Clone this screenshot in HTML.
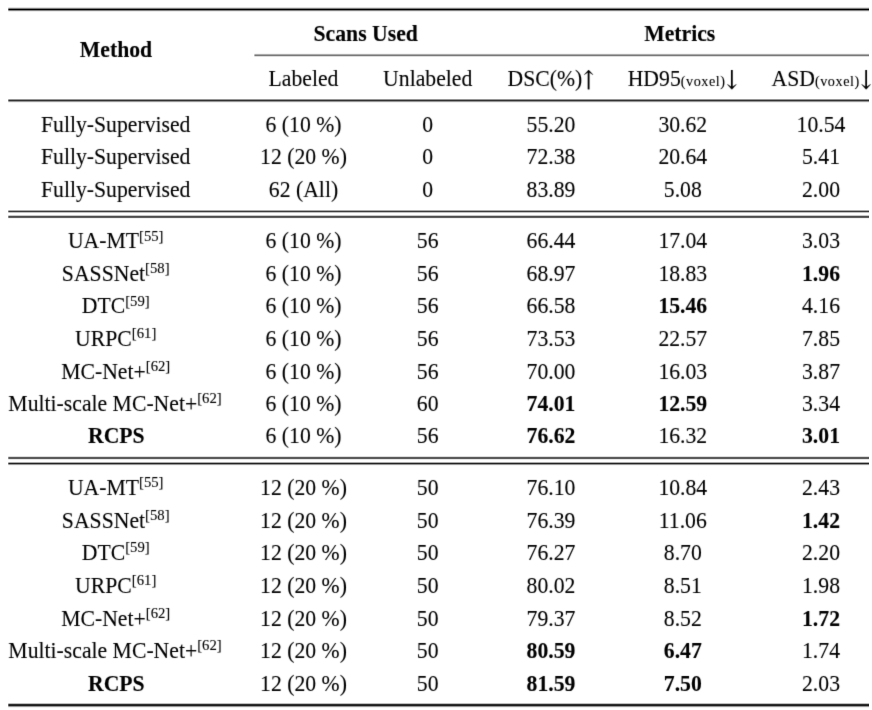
<!DOCTYPE html>
<html><head><meta charset="utf-8"><title>Table</title>
<style>
html,body{margin:0;padding:0;background:#fff;}
body{width:872px;height:710px;overflow:hidden;}
svg{display:block;}
.ar{font-family:"DejaVu Math TeX Gyre","DejaVu Sans",serif;}
text{font-family:"Liberation Serif","Times New Roman",serif;font-size:21.7px;fill:#000;stroke:#000;stroke-width:0.1px;}
</style></head><body>
<svg width="872" height="710" viewBox="0 0 872 710">
<defs><filter id="sf" x="0" y="0" width="872" height="710" filterUnits="userSpaceOnUse"><feConvolveMatrix order="3" kernelMatrix="0.0100 0.0799 0.0100 0.0799 0.6408 0.0799 0.0100 0.0799 0.0100" divisor="1" edgeMode="none" preserveAlpha="false"/></filter></defs>
<rect width="872" height="710" fill="#fff"/>
<g filter="url(#sf)">
<text transform="translate(365.7,40.8) scale(1.0,1.06)" text-anchor="middle" font-weight="bold">Scans Used</text>
<text transform="translate(679.7,40.8) scale(1.0,1.06)" text-anchor="middle" font-weight="bold">Metrics</text>
<text transform="translate(116.0,56.7) scale(1.0,1.06)" text-anchor="middle" font-weight="bold">Method</text>
<text transform="translate(303.5,85.9) scale(1.0,1.06)" text-anchor="middle">Labeled</text>
<text transform="translate(427.7,85.9) scale(1.0,1.06)" text-anchor="middle">Unlabeled</text>
<text transform="translate(551.0,85.9) scale(1.0,1.06)" text-anchor="middle">DSC(%)<tspan class="ar">↑</tspan></text>
<text transform="translate(682.8,85.9) scale(1.0,1.06)" text-anchor="middle">HD95<tspan font-size="14.2" letter-spacing="0.55">(voxel)</tspan><tspan class="ar">↓</tspan></text>
<text transform="translate(821.8,85.9) scale(1.0,1.06)" text-anchor="middle">ASD<tspan font-size="14.2" letter-spacing="0.55">(voxel)</tspan><tspan class="ar">↓</tspan></text>
<text transform="translate(115.7,131.8) scale(1.0,1.06)" text-anchor="middle">Fully-Supervised</text>
<text transform="translate(303.5,131.8) scale(1.0,1.06)" text-anchor="middle">6 (10 %)</text>
<text transform="translate(427.7,131.8) scale(1.0,1.06)" text-anchor="middle">0</text>
<text transform="translate(551.0,131.8) scale(1.0,1.06)" text-anchor="middle">55.20</text>
<text transform="translate(682.8,131.8) scale(1.0,1.06)" text-anchor="middle">30.62</text>
<text transform="translate(821.0,131.8) scale(1.0,1.06)" text-anchor="middle">10.54</text>
<text transform="translate(115.7,164.3) scale(1.0,1.06)" text-anchor="middle">Fully-Supervised</text>
<text transform="translate(303.5,164.3) scale(1.0,1.06)" text-anchor="middle">12 (20 %)</text>
<text transform="translate(427.7,164.3) scale(1.0,1.06)" text-anchor="middle">0</text>
<text transform="translate(551.0,164.3) scale(1.0,1.06)" text-anchor="middle">72.38</text>
<text transform="translate(682.8,164.3) scale(1.0,1.06)" text-anchor="middle">20.64</text>
<text transform="translate(821.0,164.3) scale(1.0,1.06)" text-anchor="middle">5.41</text>
<text transform="translate(115.7,197.3) scale(1.0,1.06)" text-anchor="middle">Fully-Supervised</text>
<text transform="translate(303.5,197.3) scale(1.0,1.06)" text-anchor="middle">62 (All)</text>
<text transform="translate(427.7,197.3) scale(1.0,1.06)" text-anchor="middle">0</text>
<text transform="translate(551.0,197.3) scale(1.0,1.06)" text-anchor="middle">83.89</text>
<text transform="translate(682.8,197.3) scale(1.0,1.06)" text-anchor="middle">5.08</text>
<text transform="translate(821.0,197.3) scale(1.0,1.06)" text-anchor="middle">2.00</text>
<text transform="translate(115.7,248.3) scale(1.0,1.06)" text-anchor="middle">UA-MT<tspan font-size="14.7" dy="-7.3">[55]</tspan></text>
<text transform="translate(303.5,248.3) scale(1.0,1.06)" text-anchor="middle">6 (10 %)</text>
<text transform="translate(427.7,248.3) scale(1.0,1.06)" text-anchor="middle">56</text>
<text transform="translate(551.0,248.3) scale(1.0,1.06)" text-anchor="middle">66.44</text>
<text transform="translate(682.8,248.3) scale(1.0,1.06)" text-anchor="middle">17.04</text>
<text transform="translate(821.0,248.3) scale(1.0,1.06)" text-anchor="middle">3.03</text>
<text transform="translate(115.7,280.8) scale(1.0,1.06)" text-anchor="middle">SASSNet<tspan font-size="14.7" dy="-7.3">[58]</tspan></text>
<text transform="translate(303.5,280.8) scale(1.0,1.06)" text-anchor="middle">6 (10 %)</text>
<text transform="translate(427.7,280.8) scale(1.0,1.06)" text-anchor="middle">56</text>
<text transform="translate(551.0,280.8) scale(1.0,1.06)" text-anchor="middle">68.97</text>
<text transform="translate(682.8,280.8) scale(1.0,1.06)" text-anchor="middle">18.83</text>
<text transform="translate(821.0,280.8) scale(1.0,1.06)" text-anchor="middle" font-weight="bold">1.96</text>
<text transform="translate(115.7,313.3) scale(1.0,1.06)" text-anchor="middle">DTC<tspan font-size="14.7" dy="-7.3">[59]</tspan></text>
<text transform="translate(303.5,313.3) scale(1.0,1.06)" text-anchor="middle">6 (10 %)</text>
<text transform="translate(427.7,313.3) scale(1.0,1.06)" text-anchor="middle">56</text>
<text transform="translate(551.0,313.3) scale(1.0,1.06)" text-anchor="middle">66.58</text>
<text transform="translate(682.8,313.3) scale(1.0,1.06)" text-anchor="middle" font-weight="bold">15.46</text>
<text transform="translate(821.0,313.3) scale(1.0,1.06)" text-anchor="middle">4.16</text>
<text transform="translate(115.7,345.9) scale(1.0,1.06)" text-anchor="middle">URPC<tspan font-size="14.7" dy="-7.3">[61]</tspan></text>
<text transform="translate(303.5,345.9) scale(1.0,1.06)" text-anchor="middle">6 (10 %)</text>
<text transform="translate(427.7,345.9) scale(1.0,1.06)" text-anchor="middle">56</text>
<text transform="translate(551.0,345.9) scale(1.0,1.06)" text-anchor="middle">73.53</text>
<text transform="translate(682.8,345.9) scale(1.0,1.06)" text-anchor="middle">22.57</text>
<text transform="translate(821.0,345.9) scale(1.0,1.06)" text-anchor="middle">7.85</text>
<text transform="translate(115.7,378.5) scale(1.0,1.06)" text-anchor="middle">MC-Net+<tspan font-size="14.7" dy="-7.3">[62]</tspan></text>
<text transform="translate(303.5,378.5) scale(1.0,1.06)" text-anchor="middle">6 (10 %)</text>
<text transform="translate(427.7,378.5) scale(1.0,1.06)" text-anchor="middle">56</text>
<text transform="translate(551.0,378.5) scale(1.0,1.06)" text-anchor="middle">70.00</text>
<text transform="translate(682.8,378.5) scale(1.0,1.06)" text-anchor="middle">16.03</text>
<text transform="translate(821.0,378.5) scale(1.0,1.06)" text-anchor="middle">3.87</text>
<text transform="translate(115.0,411.0) scale(1.0,1.06)" text-anchor="middle">Multi-scale MC-Net+<tspan font-size="14.7" dy="-7.3">[62]</tspan></text>
<text transform="translate(303.5,411.0) scale(1.0,1.06)" text-anchor="middle">6 (10 %)</text>
<text transform="translate(427.7,411.0) scale(1.0,1.06)" text-anchor="middle">60</text>
<text transform="translate(551.0,411.0) scale(1.0,1.06)" text-anchor="middle" font-weight="bold">74.01</text>
<text transform="translate(682.8,411.0) scale(1.0,1.06)" text-anchor="middle" font-weight="bold">12.59</text>
<text transform="translate(821.0,411.0) scale(1.0,1.06)" text-anchor="middle">3.34</text>
<text transform="translate(116.3,443.3) scale(1.0,1.06)" text-anchor="middle" font-weight="bold">RCPS</text>
<text transform="translate(303.5,443.3) scale(1.0,1.06)" text-anchor="middle">6 (10 %)</text>
<text transform="translate(427.7,443.3) scale(1.0,1.06)" text-anchor="middle">56</text>
<text transform="translate(551.0,443.3) scale(1.0,1.06)" text-anchor="middle" font-weight="bold">76.62</text>
<text transform="translate(682.8,443.3) scale(1.0,1.06)" text-anchor="middle">16.32</text>
<text transform="translate(821.0,443.3) scale(1.0,1.06)" text-anchor="middle" font-weight="bold">3.01</text>
<text transform="translate(115.7,494.8) scale(1.0,1.06)" text-anchor="middle">UA-MT<tspan font-size="14.7" dy="-7.3">[55]</tspan></text>
<text transform="translate(303.5,494.8) scale(1.0,1.06)" text-anchor="middle">12 (20 %)</text>
<text transform="translate(427.7,494.8) scale(1.0,1.06)" text-anchor="middle">50</text>
<text transform="translate(551.0,494.8) scale(1.0,1.06)" text-anchor="middle">76.10</text>
<text transform="translate(682.8,494.8) scale(1.0,1.06)" text-anchor="middle">10.84</text>
<text transform="translate(821.0,494.8) scale(1.0,1.06)" text-anchor="middle">2.43</text>
<text transform="translate(115.7,527.7) scale(1.0,1.06)" text-anchor="middle">SASSNet<tspan font-size="14.7" dy="-7.3">[58]</tspan></text>
<text transform="translate(303.5,527.7) scale(1.0,1.06)" text-anchor="middle">12 (20 %)</text>
<text transform="translate(427.7,527.7) scale(1.0,1.06)" text-anchor="middle">50</text>
<text transform="translate(551.0,527.7) scale(1.0,1.06)" text-anchor="middle">76.39</text>
<text transform="translate(682.8,527.7) scale(1.0,1.06)" text-anchor="middle">11.06</text>
<text transform="translate(821.0,527.7) scale(1.0,1.06)" text-anchor="middle" font-weight="bold">1.42</text>
<text transform="translate(115.7,560.1) scale(1.0,1.06)" text-anchor="middle">DTC<tspan font-size="14.7" dy="-7.3">[59]</tspan></text>
<text transform="translate(303.5,560.1) scale(1.0,1.06)" text-anchor="middle">12 (20 %)</text>
<text transform="translate(427.7,560.1) scale(1.0,1.06)" text-anchor="middle">50</text>
<text transform="translate(551.0,560.1) scale(1.0,1.06)" text-anchor="middle">76.27</text>
<text transform="translate(682.8,560.1) scale(1.0,1.06)" text-anchor="middle">8.70</text>
<text transform="translate(821.0,560.1) scale(1.0,1.06)" text-anchor="middle">2.20</text>
<text transform="translate(115.7,592.7) scale(1.0,1.06)" text-anchor="middle">URPC<tspan font-size="14.7" dy="-7.3">[61]</tspan></text>
<text transform="translate(303.5,592.7) scale(1.0,1.06)" text-anchor="middle">12 (20 %)</text>
<text transform="translate(427.7,592.7) scale(1.0,1.06)" text-anchor="middle">50</text>
<text transform="translate(551.0,592.7) scale(1.0,1.06)" text-anchor="middle">80.02</text>
<text transform="translate(682.8,592.7) scale(1.0,1.06)" text-anchor="middle">8.51</text>
<text transform="translate(821.0,592.7) scale(1.0,1.06)" text-anchor="middle">1.98</text>
<text transform="translate(115.7,625.6) scale(1.0,1.06)" text-anchor="middle">MC-Net+<tspan font-size="14.7" dy="-7.3">[62]</tspan></text>
<text transform="translate(303.5,625.6) scale(1.0,1.06)" text-anchor="middle">12 (20 %)</text>
<text transform="translate(427.7,625.6) scale(1.0,1.06)" text-anchor="middle">50</text>
<text transform="translate(551.0,625.6) scale(1.0,1.06)" text-anchor="middle">79.37</text>
<text transform="translate(682.8,625.6) scale(1.0,1.06)" text-anchor="middle">8.52</text>
<text transform="translate(821.0,625.6) scale(1.0,1.06)" text-anchor="middle" font-weight="bold">1.72</text>
<text transform="translate(115.0,658.0) scale(1.0,1.06)" text-anchor="middle">Multi-scale MC-Net+<tspan font-size="14.7" dy="-7.3">[62]</tspan></text>
<text transform="translate(303.5,658.0) scale(1.0,1.06)" text-anchor="middle">12 (20 %)</text>
<text transform="translate(427.7,658.0) scale(1.0,1.06)" text-anchor="middle">50</text>
<text transform="translate(551.0,658.0) scale(1.0,1.06)" text-anchor="middle" font-weight="bold">80.59</text>
<text transform="translate(682.8,658.0) scale(1.0,1.06)" text-anchor="middle" font-weight="bold">6.47</text>
<text transform="translate(821.0,658.0) scale(1.0,1.06)" text-anchor="middle">1.74</text>
<text transform="translate(116.3,690.7) scale(1.0,1.06)" text-anchor="middle" font-weight="bold">RCPS</text>
<text transform="translate(303.5,690.7) scale(1.0,1.06)" text-anchor="middle">12 (20 %)</text>
<text transform="translate(427.7,690.7) scale(1.0,1.06)" text-anchor="middle">50</text>
<text transform="translate(551.0,690.7) scale(1.0,1.06)" text-anchor="middle" font-weight="bold">81.59</text>
<text transform="translate(682.8,690.7) scale(1.0,1.06)" text-anchor="middle" font-weight="bold">7.50</text>
<text transform="translate(821.0,690.7) scale(1.0,1.06)" text-anchor="middle">2.03</text>
</g>
<rect x="8.3" y="7" width="860.7" height="1" fill="#e1e1e1"/>
<rect x="8.3" y="8" width="860.7" height="1" fill="#7d7d7d"/>
<rect x="8.3" y="9" width="860.7" height="1" fill="#000000"/>
<rect x="8.3" y="10" width="860.7" height="1" fill="#828282"/>
<rect x="8.3" y="11" width="860.7" height="1" fill="#ebebeb"/>
<rect x="254.4" y="53" width="614.6" height="1" fill="#f5f5f5"/>
<rect x="254.4" y="54" width="614.6" height="1" fill="#aaaaaa"/>
<rect x="254.4" y="55" width="614.6" height="1" fill="#787878"/>
<rect x="254.4" y="56" width="614.6" height="1" fill="#dcdcdc"/>
<rect x="8.3" y="99" width="860.7" height="1" fill="#969696"/>
<rect x="8.3" y="100" width="860.7" height="1" fill="#323232"/>
<rect x="8.3" y="101" width="860.7" height="1" fill="#969696"/>
<rect x="8.3" y="102" width="860.7" height="1" fill="#f0f0f0"/>
<rect x="8.3" y="210" width="860.7" height="1" fill="#aaaaaa"/>
<rect x="8.3" y="211" width="860.7" height="1" fill="#3c3c3c"/>
<rect x="8.3" y="212" width="860.7" height="1" fill="#bebebe"/>
<rect x="8.3" y="215" width="860.7" height="1" fill="#c8c8c8"/>
<rect x="8.3" y="216" width="860.7" height="1" fill="#4b4b4b"/>
<rect x="8.3" y="217" width="860.7" height="1" fill="#5f5f5f"/>
<rect x="8.3" y="218" width="860.7" height="1" fill="#f0f0f0"/>
<rect x="8.3" y="456" width="860.7" height="1" fill="#dcdcdc"/>
<rect x="8.3" y="457" width="860.7" height="1" fill="#5a5a5a"/>
<rect x="8.3" y="458" width="860.7" height="1" fill="#5a5a5a"/>
<rect x="8.3" y="459" width="860.7" height="1" fill="#e6e6e6"/>
<rect x="8.3" y="462" width="860.7" height="1" fill="#aaaaaa"/>
<rect x="8.3" y="463" width="860.7" height="1" fill="#232323"/>
<rect x="8.3" y="464" width="860.7" height="1" fill="#969696"/>
<rect x="8.3" y="465" width="860.7" height="1" fill="#f5f5f5"/>
<rect x="8.3" y="703" width="860.7" height="1" fill="#bebebe"/>
<rect x="8.3" y="704" width="860.7" height="1" fill="#2d2d2d"/>
<rect x="8.3" y="705" width="860.7" height="1" fill="#1e1e1e"/>
<rect x="8.3" y="706" width="860.7" height="1" fill="#969696"/>
<rect x="8.3" y="707" width="860.7" height="1" fill="#f0f0f0"/>
</svg>
</body></html>
